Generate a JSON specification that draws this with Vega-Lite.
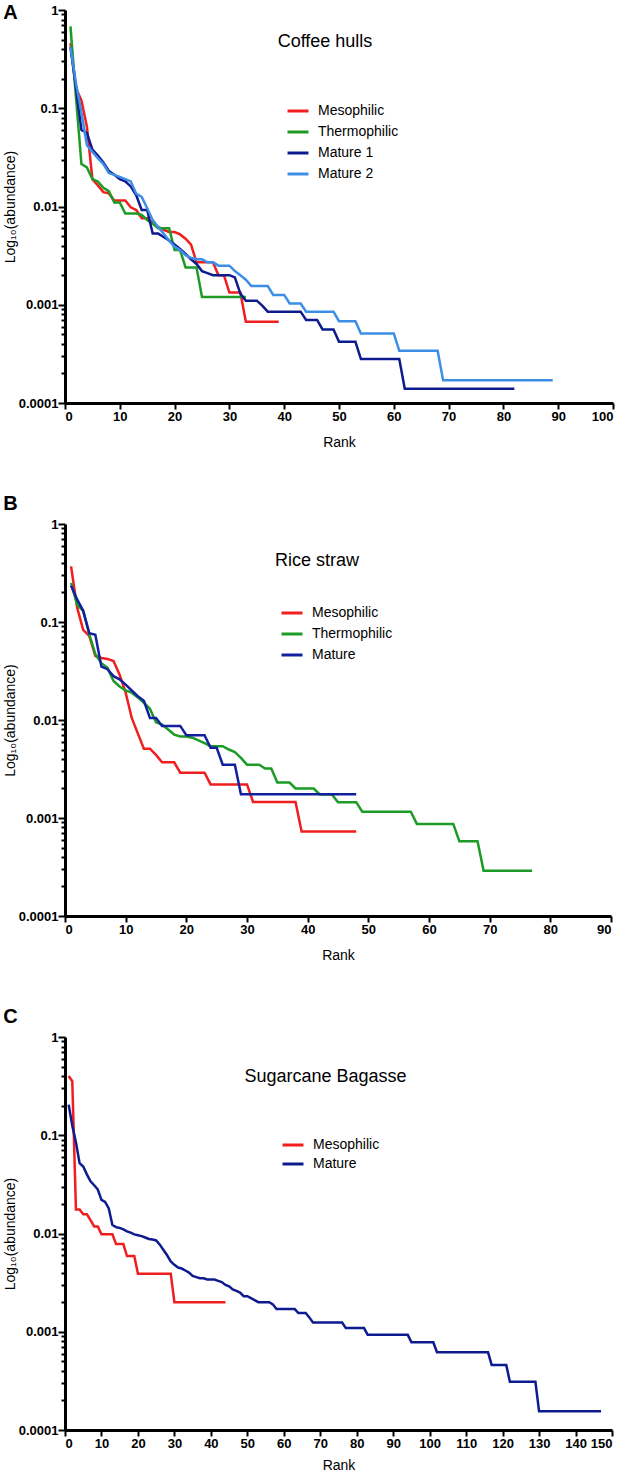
{
  "$schema": "https://vega.github.io/schema/vega-lite/v6.json",
  "padding": {"left": 3, "top": 3, "right": 5, "bottom": 5},
  "spacing": 45,
  "config": {
    "font": "Liberation Sans",
    "view": {"stroke": null},
    "axis": {"grid": false, "domainColor": "#000", "domainWidth": 3, "tickColor": "#000", "tickWidth": 2, "labelColor": "#000", "labelFontWeight": "bold", "labelFontSize": 13, "labelFont": "Liberation Sans", "titleColor": "#000", "titleFont": "Liberation Sans", "titleFontWeight": "normal", "titleFontSize": 14, "labelOverlap": false},
    "legend": {"orient": "none", "title": null, "symbolType": "stroke", "symbolStrokeWidth": 3, "symbolSize": 440, "labelFontSize": 14, "labelFont": "Liberation Sans", "labelColor": "#000", "labelOffset": 8, "rowPadding": 1},
    "title": {"font": "Liberation Sans", "color": "#000"}
  },
  "resolve": {"scale": {"color": "independent", "x": "independent", "y": "independent"}, "legend": {"color": "independent"}},
  "datasets": {
    "A": [
      {"rank":1,"abundance":0.46,"series":"Mesophilic"},{"rank":2,"abundance":0.16,"series":"Mesophilic"},{"rank":3,"abundance":0.12,"series":"Mesophilic"},{"rank":4,"abundance":0.065,"series":"Mesophilic"},{"rank":5,"abundance":0.019,"series":"Mesophilic"},{"rank":6,"abundance":0.0164,"series":"Mesophilic"},{"rank":7,"abundance":0.014,"series":"Mesophilic"},{"rank":8,"abundance":0.0136,"series":"Mesophilic"},{"rank":9,"abundance":0.0115,"series":"Mesophilic"},{"rank":10,"abundance":0.0115,"series":"Mesophilic"},
      {"rank":11,"abundance":0.0115,"series":"Mesophilic"},{"rank":12,"abundance":0.0098,"series":"Mesophilic"},{"rank":13,"abundance":0.0092,"series":"Mesophilic"},{"rank":14,"abundance":0.0076,"series":"Mesophilic"},{"rank":15,"abundance":0.0076,"series":"Mesophilic"},{"rank":16,"abundance":0.0068,"series":"Mesophilic"},{"rank":17,"abundance":0.0062,"series":"Mesophilic"},{"rank":18,"abundance":0.0058,"series":"Mesophilic"},{"rank":19,"abundance":0.0055,"series":"Mesophilic"},{"rank":20,"abundance":0.0055,"series":"Mesophilic"},
      {"rank":21,"abundance":0.0052,"series":"Mesophilic"},{"rank":22,"abundance":0.0047,"series":"Mesophilic"},{"rank":23,"abundance":0.0041,"series":"Mesophilic"},{"rank":24,"abundance":0.0027,"series":"Mesophilic"},{"rank":25,"abundance":0.0027,"series":"Mesophilic"},{"rank":26,"abundance":0.0027,"series":"Mesophilic"},{"rank":27,"abundance":0.0027,"series":"Mesophilic"},{"rank":28,"abundance":0.002,"series":"Mesophilic"},{"rank":29,"abundance":0.002,"series":"Mesophilic"},{"rank":30,"abundance":0.00133,"series":"Mesophilic"},
      {"rank":31,"abundance":0.00133,"series":"Mesophilic"},{"rank":32,"abundance":0.00133,"series":"Mesophilic"},{"rank":33,"abundance":0.00067,"series":"Mesophilic"},{"rank":34,"abundance":0.00067,"series":"Mesophilic"},{"rank":35,"abundance":0.00067,"series":"Mesophilic"},{"rank":36,"abundance":0.00067,"series":"Mesophilic"},{"rank":37,"abundance":0.00067,"series":"Mesophilic"},{"rank":38,"abundance":0.00067,"series":"Mesophilic"},{"rank":39,"abundance":0.00067,"series":"Mesophilic"},

      {"rank":1,"abundance":0.68,"series":"Thermophilic"},{"rank":2,"abundance":0.13,"series":"Thermophilic"},{"rank":3,"abundance":0.027,"series":"Thermophilic"},{"rank":4,"abundance":0.025,"series":"Thermophilic"},{"rank":5,"abundance":0.019,"series":"Thermophilic"},{"rank":6,"abundance":0.018,"series":"Thermophilic"},{"rank":7,"abundance":0.0155,"series":"Thermophilic"},{"rank":8,"abundance":0.0143,"series":"Thermophilic"},{"rank":9,"abundance":0.011,"series":"Thermophilic"},{"rank":10,"abundance":0.011,"series":"Thermophilic"},
      {"rank":11,"abundance":0.0085,"series":"Thermophilic"},{"rank":12,"abundance":0.0085,"series":"Thermophilic"},{"rank":13,"abundance":0.0085,"series":"Thermophilic"},{"rank":14,"abundance":0.0082,"series":"Thermophilic"},{"rank":15,"abundance":0.0073,"series":"Thermophilic"},{"rank":16,"abundance":0.0067,"series":"Thermophilic"},{"rank":17,"abundance":0.006,"series":"Thermophilic"},{"rank":18,"abundance":0.006,"series":"Thermophilic"},{"rank":19,"abundance":0.006,"series":"Thermophilic"},{"rank":20,"abundance":0.0036,"series":"Thermophilic"},
      {"rank":21,"abundance":0.0036,"series":"Thermophilic"},{"rank":22,"abundance":0.0024,"series":"Thermophilic"},{"rank":23,"abundance":0.0024,"series":"Thermophilic"},{"rank":24,"abundance":0.0024,"series":"Thermophilic"},{"rank":25,"abundance":0.0012,"series":"Thermophilic"},{"rank":26,"abundance":0.0012,"series":"Thermophilic"},{"rank":27,"abundance":0.0012,"series":"Thermophilic"},{"rank":28,"abundance":0.0012,"series":"Thermophilic"},{"rank":29,"abundance":0.0012,"series":"Thermophilic"},{"rank":30,"abundance":0.0012,"series":"Thermophilic"},
      {"rank":31,"abundance":0.0012,"series":"Thermophilic"},{"rank":32,"abundance":0.0012,"series":"Thermophilic"},{"rank":33,"abundance":0.0012,"series":"Thermophilic"},

      {"rank":1,"abundance":0.42,"series":"Mature  1"},{"rank":2,"abundance":0.16,"series":"Mature  1"},{"rank":3,"abundance":0.06,"series":"Mature  1"},{"rank":4,"abundance":0.056,"series":"Mature  1"},{"rank":5,"abundance":0.038,"series":"Mature  1"},{"rank":6,"abundance":0.033,"series":"Mature  1"},{"rank":7,"abundance":0.028,"series":"Mature  1"},{"rank":8,"abundance":0.023,"series":"Mature  1"},{"rank":9,"abundance":0.021,"series":"Mature  1"},{"rank":10,"abundance":0.019,"series":"Mature  1"},
      {"rank":11,"abundance":0.018,"series":"Mature  1"},{"rank":12,"abundance":0.016,"series":"Mature  1"},{"rank":13,"abundance":0.013,"series":"Mature  1"},{"rank":14,"abundance":0.0092,"series":"Mature  1"},{"rank":15,"abundance":0.0092,"series":"Mature  1"},{"rank":16,"abundance":0.0053,"series":"Mature  1"},{"rank":17,"abundance":0.0053,"series":"Mature  1"},{"rank":18,"abundance":0.0049,"series":"Mature  1"},{"rank":19,"abundance":0.0045,"series":"Mature  1"},{"rank":20,"abundance":0.0041,"series":"Mature  1"},
      {"rank":21,"abundance":0.0037,"series":"Mature  1"},{"rank":22,"abundance":0.0033,"series":"Mature  1"},{"rank":23,"abundance":0.0029,"series":"Mature  1"},{"rank":24,"abundance":0.0026,"series":"Mature  1"},{"rank":25,"abundance":0.0022,"series":"Mature  1"},{"rank":26,"abundance":0.0021,"series":"Mature  1"},{"rank":27,"abundance":0.002,"series":"Mature  1"},{"rank":28,"abundance":0.002,"series":"Mature  1"},{"rank":29,"abundance":0.002,"series":"Mature  1"},{"rank":30,"abundance":0.002,"series":"Mature  1"},
      {"rank":31,"abundance":0.0019,"series":"Mature  1"},{"rank":32,"abundance":0.0013,"series":"Mature  1"},{"rank":33,"abundance":0.0011,"series":"Mature  1"},{"rank":34,"abundance":0.0011,"series":"Mature  1"},{"rank":35,"abundance":0.0011,"series":"Mature  1"},{"rank":36,"abundance":0.00098,"series":"Mature  1"},{"rank":37,"abundance":0.00085,"series":"Mature  1"},{"rank":38,"abundance":0.00085,"series":"Mature  1"},{"rank":39,"abundance":0.00085,"series":"Mature  1"},{"rank":40,"abundance":0.00085,"series":"Mature  1"},
      {"rank":41,"abundance":0.00085,"series":"Mature  1"},{"rank":42,"abundance":0.00085,"series":"Mature  1"},{"rank":43,"abundance":0.00085,"series":"Mature  1"},{"rank":44,"abundance":0.0007,"series":"Mature  1"},{"rank":45,"abundance":0.0007,"series":"Mature  1"},{"rank":46,"abundance":0.0007,"series":"Mature  1"},{"rank":47,"abundance":0.00056,"series":"Mature  1"},{"rank":48,"abundance":0.00056,"series":"Mature  1"},{"rank":49,"abundance":0.00056,"series":"Mature  1"},{"rank":50,"abundance":0.00042,"series":"Mature  1"},
      {"rank":51,"abundance":0.00042,"series":"Mature  1"},{"rank":52,"abundance":0.00042,"series":"Mature  1"},{"rank":53,"abundance":0.00042,"series":"Mature  1"},{"rank":54,"abundance":0.00028,"series":"Mature  1"},{"rank":55,"abundance":0.00028,"series":"Mature  1"},{"rank":56,"abundance":0.00028,"series":"Mature  1"},{"rank":57,"abundance":0.00028,"series":"Mature  1"},{"rank":58,"abundance":0.00028,"series":"Mature  1"},{"rank":59,"abundance":0.00028,"series":"Mature  1"},{"rank":60,"abundance":0.00028,"series":"Mature  1"},
      {"rank":61,"abundance":0.00028,"series":"Mature  1"},{"rank":62,"abundance":0.00014,"series":"Mature  1"},{"rank":63,"abundance":0.00014,"series":"Mature  1"},{"rank":64,"abundance":0.00014,"series":"Mature  1"},{"rank":65,"abundance":0.00014,"series":"Mature  1"},{"rank":66,"abundance":0.00014,"series":"Mature  1"},{"rank":67,"abundance":0.00014,"series":"Mature  1"},{"rank":68,"abundance":0.00014,"series":"Mature  1"},{"rank":69,"abundance":0.00014,"series":"Mature  1"},{"rank":70,"abundance":0.00014,"series":"Mature  1"},
      {"rank":71,"abundance":0.00014,"series":"Mature  1"},{"rank":72,"abundance":0.00014,"series":"Mature  1"},{"rank":73,"abundance":0.00014,"series":"Mature  1"},{"rank":74,"abundance":0.00014,"series":"Mature  1"},{"rank":75,"abundance":0.00014,"series":"Mature  1"},{"rank":76,"abundance":0.00014,"series":"Mature  1"},{"rank":77,"abundance":0.00014,"series":"Mature  1"},{"rank":78,"abundance":0.00014,"series":"Mature  1"},{"rank":79,"abundance":0.00014,"series":"Mature  1"},{"rank":80,"abundance":0.00014,"series":"Mature  1"},
      {"rank":81,"abundance":0.00014,"series":"Mature  1"},{"rank":82,"abundance":0.00014,"series":"Mature  1"},

      {"rank":1,"abundance":0.42,"series":"Mature  2"},{"rank":2,"abundance":0.18,"series":"Mature  2"},{"rank":3,"abundance":0.09,"series":"Mature  2"},{"rank":4,"abundance":0.042,"series":"Mature  2"},{"rank":5,"abundance":0.036,"series":"Mature  2"},{"rank":6,"abundance":0.031,"series":"Mature  2"},{"rank":7,"abundance":0.027,"series":"Mature  2"},{"rank":8,"abundance":0.022,"series":"Mature  2"},{"rank":9,"abundance":0.021,"series":"Mature  2"},{"rank":10,"abundance":0.02,"series":"Mature  2"},
      {"rank":11,"abundance":0.019,"series":"Mature  2"},{"rank":12,"abundance":0.018,"series":"Mature  2"},{"rank":13,"abundance":0.0135,"series":"Mature  2"},{"rank":14,"abundance":0.0125,"series":"Mature  2"},{"rank":15,"abundance":0.0096,"series":"Mature  2"},{"rank":16,"abundance":0.0073,"series":"Mature  2"},{"rank":17,"abundance":0.0062,"series":"Mature  2"},{"rank":18,"abundance":0.0053,"series":"Mature  2"},{"rank":19,"abundance":0.0045,"series":"Mature  2"},{"rank":20,"abundance":0.0039,"series":"Mature  2"},
      {"rank":21,"abundance":0.0036,"series":"Mature  2"},{"rank":22,"abundance":0.0032,"series":"Mature  2"},{"rank":23,"abundance":0.003,"series":"Mature  2"},{"rank":24,"abundance":0.0029,"series":"Mature  2"},{"rank":25,"abundance":0.0029,"series":"Mature  2"},{"rank":26,"abundance":0.0027,"series":"Mature  2"},{"rank":27,"abundance":0.0027,"series":"Mature  2"},{"rank":28,"abundance":0.0025,"series":"Mature  2"},{"rank":29,"abundance":0.0025,"series":"Mature  2"},{"rank":30,"abundance":0.0025,"series":"Mature  2"},
      {"rank":31,"abundance":0.0022,"series":"Mature  2"},{"rank":32,"abundance":0.002,"series":"Mature  2"},{"rank":33,"abundance":0.0018,"series":"Mature  2"},{"rank":34,"abundance":0.00155,"series":"Mature  2"},{"rank":35,"abundance":0.00155,"series":"Mature  2"},{"rank":36,"abundance":0.00155,"series":"Mature  2"},{"rank":37,"abundance":0.00155,"series":"Mature  2"},{"rank":38,"abundance":0.00126,"series":"Mature  2"},{"rank":39,"abundance":0.00126,"series":"Mature  2"},{"rank":40,"abundance":0.00126,"series":"Mature  2"},
      {"rank":41,"abundance":0.00103,"series":"Mature  2"},{"rank":42,"abundance":0.00103,"series":"Mature  2"},{"rank":43,"abundance":0.00103,"series":"Mature  2"},{"rank":44,"abundance":0.00085,"series":"Mature  2"},{"rank":45,"abundance":0.00085,"series":"Mature  2"},{"rank":46,"abundance":0.00085,"series":"Mature  2"},{"rank":47,"abundance":0.00085,"series":"Mature  2"},{"rank":48,"abundance":0.00085,"series":"Mature  2"},{"rank":49,"abundance":0.00085,"series":"Mature  2"},{"rank":50,"abundance":0.00068,"series":"Mature  2"},
      {"rank":51,"abundance":0.00068,"series":"Mature  2"},{"rank":52,"abundance":0.00068,"series":"Mature  2"},{"rank":53,"abundance":0.00068,"series":"Mature  2"},{"rank":54,"abundance":0.00051,"series":"Mature  2"},{"rank":55,"abundance":0.00051,"series":"Mature  2"},{"rank":56,"abundance":0.00051,"series":"Mature  2"},{"rank":57,"abundance":0.00051,"series":"Mature  2"},{"rank":58,"abundance":0.00051,"series":"Mature  2"},{"rank":59,"abundance":0.00051,"series":"Mature  2"},{"rank":60,"abundance":0.00051,"series":"Mature  2"},
      {"rank":61,"abundance":0.00034,"series":"Mature  2"},{"rank":62,"abundance":0.00034,"series":"Mature  2"},{"rank":63,"abundance":0.00034,"series":"Mature  2"},{"rank":64,"abundance":0.00034,"series":"Mature  2"},{"rank":65,"abundance":0.00034,"series":"Mature  2"},{"rank":66,"abundance":0.00034,"series":"Mature  2"},{"rank":67,"abundance":0.00034,"series":"Mature  2"},{"rank":68,"abundance":0.00034,"series":"Mature  2"},{"rank":69,"abundance":0.00017,"series":"Mature  2"},{"rank":70,"abundance":0.00017,"series":"Mature  2"},
      {"rank":71,"abundance":0.00017,"series":"Mature  2"},{"rank":72,"abundance":0.00017,"series":"Mature  2"},{"rank":73,"abundance":0.00017,"series":"Mature  2"},{"rank":74,"abundance":0.00017,"series":"Mature  2"},{"rank":75,"abundance":0.00017,"series":"Mature  2"},{"rank":76,"abundance":0.00017,"series":"Mature  2"},{"rank":77,"abundance":0.00017,"series":"Mature  2"},{"rank":78,"abundance":0.00017,"series":"Mature  2"},{"rank":79,"abundance":0.00017,"series":"Mature  2"},{"rank":80,"abundance":0.00017,"series":"Mature  2"},
      {"rank":81,"abundance":0.00017,"series":"Mature  2"},{"rank":82,"abundance":0.00017,"series":"Mature  2"},{"rank":83,"abundance":0.00017,"series":"Mature  2"},{"rank":84,"abundance":0.00017,"series":"Mature  2"},{"rank":85,"abundance":0.00017,"series":"Mature  2"},{"rank":86,"abundance":0.00017,"series":"Mature  2"},{"rank":87,"abundance":0.00017,"series":"Mature  2"},{"rank":88,"abundance":0.00017,"series":"Mature  2"},{"rank":89,"abundance":0.00017,"series":"Mature  2"}
    ],
    "B": [
      {"rank":1,"abundance":0.37,"series":"Mesophilic"},{"rank":2,"abundance":0.14,"series":"Mesophilic"},{"rank":3,"abundance":0.083,"series":"Mesophilic"},{"rank":4,"abundance":0.072,"series":"Mesophilic"},{"rank":5,"abundance":0.045,"series":"Mesophilic"},{"rank":6,"abundance":0.043,"series":"Mesophilic"},{"rank":7,"abundance":0.042,"series":"Mesophilic"},{"rank":8,"abundance":0.04,"series":"Mesophilic"},{"rank":9,"abundance":0.029,"series":"Mesophilic"},{"rank":10,"abundance":0.019,"series":"Mesophilic"},
      {"rank":11,"abundance":0.0105,"series":"Mesophilic"},{"rank":12,"abundance":0.0073,"series":"Mesophilic"},{"rank":13,"abundance":0.0051,"series":"Mesophilic"},{"rank":14,"abundance":0.0051,"series":"Mesophilic"},{"rank":15,"abundance":0.0044,"series":"Mesophilic"},{"rank":16,"abundance":0.0037,"series":"Mesophilic"},{"rank":17,"abundance":0.0037,"series":"Mesophilic"},{"rank":18,"abundance":0.0037,"series":"Mesophilic"},{"rank":19,"abundance":0.0029,"series":"Mesophilic"},{"rank":20,"abundance":0.0029,"series":"Mesophilic"},
      {"rank":21,"abundance":0.0029,"series":"Mesophilic"},{"rank":22,"abundance":0.0029,"series":"Mesophilic"},{"rank":23,"abundance":0.0029,"series":"Mesophilic"},{"rank":24,"abundance":0.0022,"series":"Mesophilic"},{"rank":25,"abundance":0.0022,"series":"Mesophilic"},{"rank":26,"abundance":0.0022,"series":"Mesophilic"},{"rank":27,"abundance":0.0022,"series":"Mesophilic"},{"rank":28,"abundance":0.0022,"series":"Mesophilic"},{"rank":29,"abundance":0.0022,"series":"Mesophilic"},{"rank":30,"abundance":0.0022,"series":"Mesophilic"},
      {"rank":31,"abundance":0.00146,"series":"Mesophilic"},{"rank":32,"abundance":0.00146,"series":"Mesophilic"},{"rank":33,"abundance":0.00146,"series":"Mesophilic"},{"rank":34,"abundance":0.00146,"series":"Mesophilic"},{"rank":35,"abundance":0.00146,"series":"Mesophilic"},{"rank":36,"abundance":0.00146,"series":"Mesophilic"},{"rank":37,"abundance":0.00146,"series":"Mesophilic"},{"rank":38,"abundance":0.00146,"series":"Mesophilic"},{"rank":39,"abundance":0.00073,"series":"Mesophilic"},{"rank":40,"abundance":0.00073,"series":"Mesophilic"},
      {"rank":41,"abundance":0.00073,"series":"Mesophilic"},{"rank":42,"abundance":0.00073,"series":"Mesophilic"},{"rank":43,"abundance":0.00073,"series":"Mesophilic"},{"rank":44,"abundance":0.00073,"series":"Mesophilic"},{"rank":45,"abundance":0.00073,"series":"Mesophilic"},{"rank":46,"abundance":0.00073,"series":"Mesophilic"},{"rank":47,"abundance":0.00073,"series":"Mesophilic"},{"rank":48,"abundance":0.00073,"series":"Mesophilic"},

      {"rank":1,"abundance":0.25,"series":"Thermophilic"},{"rank":2,"abundance":0.15,"series":"Thermophilic"},{"rank":3,"abundance":0.13,"series":"Thermophilic"},{"rank":4,"abundance":0.075,"series":"Thermophilic"},{"rank":5,"abundance":0.047,"series":"Thermophilic"},{"rank":6,"abundance":0.038,"series":"Thermophilic"},{"rank":7,"abundance":0.034,"series":"Thermophilic"},{"rank":8,"abundance":0.025,"series":"Thermophilic"},{"rank":9,"abundance":0.022,"series":"Thermophilic"},{"rank":10,"abundance":0.02,"series":"Thermophilic"},
      {"rank":11,"abundance":0.019,"series":"Thermophilic"},{"rank":12,"abundance":0.017,"series":"Thermophilic"},{"rank":13,"abundance":0.015,"series":"Thermophilic"},{"rank":14,"abundance":0.013,"series":"Thermophilic"},{"rank":15,"abundance":0.0095,"series":"Thermophilic"},{"rank":16,"abundance":0.009,"series":"Thermophilic"},{"rank":17,"abundance":0.008,"series":"Thermophilic"},{"rank":18,"abundance":0.0071,"series":"Thermophilic"},{"rank":19,"abundance":0.0068,"series":"Thermophilic"},{"rank":20,"abundance":0.0068,"series":"Thermophilic"},
      {"rank":21,"abundance":0.0066,"series":"Thermophilic"},{"rank":22,"abundance":0.0062,"series":"Thermophilic"},{"rank":23,"abundance":0.0058,"series":"Thermophilic"},{"rank":24,"abundance":0.0054,"series":"Thermophilic"},{"rank":25,"abundance":0.0054,"series":"Thermophilic"},{"rank":26,"abundance":0.0054,"series":"Thermophilic"},{"rank":27,"abundance":0.005,"series":"Thermophilic"},{"rank":28,"abundance":0.0047,"series":"Thermophilic"},{"rank":29,"abundance":0.0041,"series":"Thermophilic"},{"rank":30,"abundance":0.0035,"series":"Thermophilic"},
      {"rank":31,"abundance":0.0035,"series":"Thermophilic"},{"rank":32,"abundance":0.0035,"series":"Thermophilic"},{"rank":33,"abundance":0.0032,"series":"Thermophilic"},{"rank":34,"abundance":0.0032,"series":"Thermophilic"},{"rank":35,"abundance":0.0023,"series":"Thermophilic"},{"rank":36,"abundance":0.0023,"series":"Thermophilic"},{"rank":37,"abundance":0.0023,"series":"Thermophilic"},{"rank":38,"abundance":0.002,"series":"Thermophilic"},{"rank":39,"abundance":0.002,"series":"Thermophilic"},{"rank":40,"abundance":0.002,"series":"Thermophilic"},
      {"rank":41,"abundance":0.002,"series":"Thermophilic"},{"rank":42,"abundance":0.00174,"series":"Thermophilic"},{"rank":43,"abundance":0.00174,"series":"Thermophilic"},{"rank":44,"abundance":0.00174,"series":"Thermophilic"},{"rank":45,"abundance":0.00145,"series":"Thermophilic"},{"rank":46,"abundance":0.00145,"series":"Thermophilic"},{"rank":47,"abundance":0.00145,"series":"Thermophilic"},{"rank":48,"abundance":0.00145,"series":"Thermophilic"},{"rank":49,"abundance":0.00116,"series":"Thermophilic"},{"rank":50,"abundance":0.00116,"series":"Thermophilic"},
      {"rank":51,"abundance":0.00116,"series":"Thermophilic"},{"rank":52,"abundance":0.00116,"series":"Thermophilic"},{"rank":53,"abundance":0.00116,"series":"Thermophilic"},{"rank":54,"abundance":0.00116,"series":"Thermophilic"},{"rank":55,"abundance":0.00116,"series":"Thermophilic"},{"rank":56,"abundance":0.00116,"series":"Thermophilic"},{"rank":57,"abundance":0.00116,"series":"Thermophilic"},{"rank":58,"abundance":0.00087,"series":"Thermophilic"},{"rank":59,"abundance":0.00087,"series":"Thermophilic"},{"rank":60,"abundance":0.00087,"series":"Thermophilic"},
      {"rank":61,"abundance":0.00087,"series":"Thermophilic"},{"rank":62,"abundance":0.00087,"series":"Thermophilic"},{"rank":63,"abundance":0.00087,"series":"Thermophilic"},{"rank":64,"abundance":0.00087,"series":"Thermophilic"},{"rank":65,"abundance":0.00058,"series":"Thermophilic"},{"rank":66,"abundance":0.00058,"series":"Thermophilic"},{"rank":67,"abundance":0.00058,"series":"Thermophilic"},{"rank":68,"abundance":0.00058,"series":"Thermophilic"},{"rank":69,"abundance":0.00029,"series":"Thermophilic"},{"rank":70,"abundance":0.00029,"series":"Thermophilic"},
      {"rank":71,"abundance":0.00029,"series":"Thermophilic"},{"rank":72,"abundance":0.00029,"series":"Thermophilic"},{"rank":73,"abundance":0.00029,"series":"Thermophilic"},{"rank":74,"abundance":0.00029,"series":"Thermophilic"},{"rank":75,"abundance":0.00029,"series":"Thermophilic"},{"rank":76,"abundance":0.00029,"series":"Thermophilic"},{"rank":77,"abundance":0.00029,"series":"Thermophilic"},

      {"rank":1,"abundance":0.235,"series":"Mature"},{"rank":2,"abundance":0.17,"series":"Mature"},{"rank":3,"abundance":0.13,"series":"Mature"},{"rank":4,"abundance":0.077,"series":"Mature"},{"rank":5,"abundance":0.074,"series":"Mature"},{"rank":6,"abundance":0.035,"series":"Mature"},{"rank":7,"abundance":0.033,"series":"Mature"},{"rank":8,"abundance":0.028,"series":"Mature"},{"rank":9,"abundance":0.026,"series":"Mature"},{"rank":10,"abundance":0.023,"series":"Mature"},
      {"rank":11,"abundance":0.02,"series":"Mature"},{"rank":12,"abundance":0.0175,"series":"Mature"},{"rank":13,"abundance":0.0157,"series":"Mature"},{"rank":14,"abundance":0.0105,"series":"Mature"},{"rank":15,"abundance":0.0105,"series":"Mature"},{"rank":16,"abundance":0.0087,"series":"Mature"},{"rank":17,"abundance":0.0087,"series":"Mature"},{"rank":18,"abundance":0.0087,"series":"Mature"},{"rank":19,"abundance":0.0087,"series":"Mature"},{"rank":20,"abundance":0.007,"series":"Mature"},
      {"rank":21,"abundance":0.007,"series":"Mature"},{"rank":22,"abundance":0.007,"series":"Mature"},{"rank":23,"abundance":0.007,"series":"Mature"},{"rank":24,"abundance":0.0052,"series":"Mature"},{"rank":25,"abundance":0.0052,"series":"Mature"},{"rank":26,"abundance":0.0035,"series":"Mature"},{"rank":27,"abundance":0.0035,"series":"Mature"},{"rank":28,"abundance":0.0035,"series":"Mature"},{"rank":29,"abundance":0.00175,"series":"Mature"},{"rank":30,"abundance":0.00175,"series":"Mature"},
      {"rank":31,"abundance":0.00175,"series":"Mature"},{"rank":32,"abundance":0.00175,"series":"Mature"},{"rank":33,"abundance":0.00175,"series":"Mature"},{"rank":34,"abundance":0.00175,"series":"Mature"},{"rank":35,"abundance":0.00175,"series":"Mature"},{"rank":36,"abundance":0.00175,"series":"Mature"},{"rank":37,"abundance":0.00175,"series":"Mature"},{"rank":38,"abundance":0.00175,"series":"Mature"},{"rank":39,"abundance":0.00175,"series":"Mature"},{"rank":40,"abundance":0.00175,"series":"Mature"},
      {"rank":41,"abundance":0.00175,"series":"Mature"},{"rank":42,"abundance":0.00175,"series":"Mature"},{"rank":43,"abundance":0.00175,"series":"Mature"},{"rank":44,"abundance":0.00175,"series":"Mature"},{"rank":45,"abundance":0.00175,"series":"Mature"},{"rank":46,"abundance":0.00175,"series":"Mature"},{"rank":47,"abundance":0.00175,"series":"Mature"},{"rank":48,"abundance":0.00175,"series":"Mature"}
    ],
    "C": [
      {"rank":1,"abundance":0.4,"series":"Mesophilic"},{"rank":2,"abundance":0.355,"series":"Mesophilic"},{"rank":3,"abundance":0.0176,"series":"Mesophilic"},{"rank":4,"abundance":0.0176,"series":"Mesophilic"},{"rank":5,"abundance":0.0157,"series":"Mesophilic"},{"rank":6,"abundance":0.0157,"series":"Mesophilic"},{"rank":7,"abundance":0.0137,"series":"Mesophilic"},{"rank":8,"abundance":0.0118,"series":"Mesophilic"},{"rank":9,"abundance":0.0118,"series":"Mesophilic"},{"rank":10,"abundance":0.0098,"series":"Mesophilic"},
      {"rank":11,"abundance":0.0098,"series":"Mesophilic"},{"rank":12,"abundance":0.0098,"series":"Mesophilic"},{"rank":13,"abundance":0.0098,"series":"Mesophilic"},{"rank":14,"abundance":0.0078,"series":"Mesophilic"},{"rank":15,"abundance":0.0078,"series":"Mesophilic"},{"rank":16,"abundance":0.0078,"series":"Mesophilic"},{"rank":17,"abundance":0.0059,"series":"Mesophilic"},{"rank":18,"abundance":0.0059,"series":"Mesophilic"},{"rank":19,"abundance":0.0059,"series":"Mesophilic"},{"rank":20,"abundance":0.0039,"series":"Mesophilic"},
      {"rank":21,"abundance":0.0039,"series":"Mesophilic"},{"rank":22,"abundance":0.0039,"series":"Mesophilic"},{"rank":23,"abundance":0.0039,"series":"Mesophilic"},{"rank":24,"abundance":0.0039,"series":"Mesophilic"},{"rank":25,"abundance":0.0039,"series":"Mesophilic"},{"rank":26,"abundance":0.0039,"series":"Mesophilic"},{"rank":27,"abundance":0.0039,"series":"Mesophilic"},{"rank":28,"abundance":0.0039,"series":"Mesophilic"},{"rank":29,"abundance":0.0039,"series":"Mesophilic"},{"rank":30,"abundance":0.002,"series":"Mesophilic"},
      {"rank":31,"abundance":0.002,"series":"Mesophilic"},{"rank":32,"abundance":0.002,"series":"Mesophilic"},{"rank":33,"abundance":0.002,"series":"Mesophilic"},{"rank":34,"abundance":0.002,"series":"Mesophilic"},{"rank":35,"abundance":0.002,"series":"Mesophilic"},{"rank":36,"abundance":0.002,"series":"Mesophilic"},{"rank":37,"abundance":0.002,"series":"Mesophilic"},{"rank":38,"abundance":0.002,"series":"Mesophilic"},{"rank":39,"abundance":0.002,"series":"Mesophilic"},{"rank":40,"abundance":0.002,"series":"Mesophilic"},
      {"rank":41,"abundance":0.002,"series":"Mesophilic"},{"rank":42,"abundance":0.002,"series":"Mesophilic"},{"rank":43,"abundance":0.002,"series":"Mesophilic"},{"rank":44,"abundance":0.002,"series":"Mesophilic"},

      {"rank":1,"abundance":0.205,"series":"Mature"},{"rank":2,"abundance":0.125,"series":"Mature"},{"rank":3,"abundance":0.085,"series":"Mature"},{"rank":4,"abundance":0.052,"series":"Mature"},{"rank":5,"abundance":0.048,"series":"Mature"},{"rank":6,"abundance":0.04,"series":"Mature"},{"rank":7,"abundance":0.034,"series":"Mature"},{"rank":8,"abundance":0.031,"series":"Mature"},{"rank":9,"abundance":0.028,"series":"Mature"},{"rank":10,"abundance":0.022,"series":"Mature"},
      {"rank":11,"abundance":0.021,"series":"Mature"},{"rank":12,"abundance":0.018,"series":"Mature"},{"rank":13,"abundance":0.0122,"series":"Mature"},{"rank":14,"abundance":0.0116,"series":"Mature"},{"rank":15,"abundance":0.0114,"series":"Mature"},{"rank":16,"abundance":0.011,"series":"Mature"},{"rank":17,"abundance":0.0105,"series":"Mature"},{"rank":18,"abundance":0.0102,"series":"Mature"},{"rank":19,"abundance":0.0098,"series":"Mature"},{"rank":20,"abundance":0.0096,"series":"Mature"},
      {"rank":21,"abundance":0.0094,"series":"Mature"},{"rank":22,"abundance":0.0091,"series":"Mature"},{"rank":23,"abundance":0.0088,"series":"Mature"},{"rank":24,"abundance":0.0087,"series":"Mature"},{"rank":25,"abundance":0.0085,"series":"Mature"},{"rank":26,"abundance":0.0077,"series":"Mature"},{"rank":27,"abundance":0.0068,"series":"Mature"},{"rank":28,"abundance":0.006,"series":"Mature"},{"rank":29,"abundance":0.0052,"series":"Mature"},{"rank":30,"abundance":0.0048,"series":"Mature"},
      {"rank":31,"abundance":0.0045,"series":"Mature"},{"rank":32,"abundance":0.0044,"series":"Mature"},{"rank":33,"abundance":0.0042,"series":"Mature"},{"rank":34,"abundance":0.004,"series":"Mature"},{"rank":35,"abundance":0.0037,"series":"Mature"},{"rank":36,"abundance":0.0036,"series":"Mature"},{"rank":37,"abundance":0.0035,"series":"Mature"},{"rank":38,"abundance":0.0035,"series":"Mature"},{"rank":39,"abundance":0.0034,"series":"Mature"},{"rank":40,"abundance":0.0034,"series":"Mature"},
      {"rank":41,"abundance":0.0034,"series":"Mature"},{"rank":42,"abundance":0.0033,"series":"Mature"},{"rank":43,"abundance":0.0032,"series":"Mature"},{"rank":44,"abundance":0.003,"series":"Mature"},{"rank":45,"abundance":0.0029,"series":"Mature"},{"rank":46,"abundance":0.0027,"series":"Mature"},{"rank":47,"abundance":0.0026,"series":"Mature"},{"rank":48,"abundance":0.0025,"series":"Mature"},{"rank":49,"abundance":0.0023,"series":"Mature"},{"rank":50,"abundance":0.0023,"series":"Mature"},
      {"rank":51,"abundance":0.0022,"series":"Mature"},{"rank":52,"abundance":0.0021,"series":"Mature"},{"rank":53,"abundance":0.002,"series":"Mature"},{"rank":54,"abundance":0.002,"series":"Mature"},{"rank":55,"abundance":0.002,"series":"Mature"},{"rank":56,"abundance":0.002,"series":"Mature"},{"rank":57,"abundance":0.0019,"series":"Mature"},{"rank":58,"abundance":0.0017,"series":"Mature"},{"rank":59,"abundance":0.0017,"series":"Mature"},{"rank":60,"abundance":0.0017,"series":"Mature"},
      {"rank":61,"abundance":0.0017,"series":"Mature"},{"rank":62,"abundance":0.0017,"series":"Mature"},{"rank":63,"abundance":0.0017,"series":"Mature"},{"rank":64,"abundance":0.00155,"series":"Mature"},{"rank":65,"abundance":0.00155,"series":"Mature"},{"rank":66,"abundance":0.00155,"series":"Mature"},{"rank":67,"abundance":0.0014,"series":"Mature"},{"rank":68,"abundance":0.00124,"series":"Mature"},{"rank":69,"abundance":0.00124,"series":"Mature"},{"rank":70,"abundance":0.00124,"series":"Mature"},
      {"rank":71,"abundance":0.00124,"series":"Mature"},{"rank":72,"abundance":0.00124,"series":"Mature"},{"rank":73,"abundance":0.00124,"series":"Mature"},{"rank":74,"abundance":0.00124,"series":"Mature"},{"rank":75,"abundance":0.00124,"series":"Mature"},{"rank":76,"abundance":0.00124,"series":"Mature"},{"rank":77,"abundance":0.00109,"series":"Mature"},{"rank":78,"abundance":0.00109,"series":"Mature"},{"rank":79,"abundance":0.00109,"series":"Mature"},{"rank":80,"abundance":0.00109,"series":"Mature"},
      {"rank":81,"abundance":0.00109,"series":"Mature"},{"rank":82,"abundance":0.00109,"series":"Mature"},{"rank":83,"abundance":0.00093,"series":"Mature"},{"rank":84,"abundance":0.00093,"series":"Mature"},{"rank":85,"abundance":0.00093,"series":"Mature"},{"rank":86,"abundance":0.00093,"series":"Mature"},{"rank":87,"abundance":0.00093,"series":"Mature"},{"rank":88,"abundance":0.00093,"series":"Mature"},{"rank":89,"abundance":0.00093,"series":"Mature"},{"rank":90,"abundance":0.00093,"series":"Mature"},
      {"rank":91,"abundance":0.00093,"series":"Mature"},{"rank":92,"abundance":0.00093,"series":"Mature"},{"rank":93,"abundance":0.00093,"series":"Mature"},{"rank":94,"abundance":0.00093,"series":"Mature"},{"rank":95,"abundance":0.00078,"series":"Mature"},{"rank":96,"abundance":0.00078,"series":"Mature"},{"rank":97,"abundance":0.00078,"series":"Mature"},{"rank":98,"abundance":0.00078,"series":"Mature"},{"rank":99,"abundance":0.00078,"series":"Mature"},{"rank":100,"abundance":0.00078,"series":"Mature"},
      {"rank":101,"abundance":0.00078,"series":"Mature"},{"rank":102,"abundance":0.00062,"series":"Mature"},{"rank":103,"abundance":0.00062,"series":"Mature"},{"rank":104,"abundance":0.00062,"series":"Mature"},{"rank":105,"abundance":0.00062,"series":"Mature"},{"rank":106,"abundance":0.00062,"series":"Mature"},{"rank":107,"abundance":0.00062,"series":"Mature"},{"rank":108,"abundance":0.00062,"series":"Mature"},{"rank":109,"abundance":0.00062,"series":"Mature"},{"rank":110,"abundance":0.00062,"series":"Mature"},
      {"rank":111,"abundance":0.00062,"series":"Mature"},{"rank":112,"abundance":0.00062,"series":"Mature"},{"rank":113,"abundance":0.00062,"series":"Mature"},{"rank":114,"abundance":0.00062,"series":"Mature"},{"rank":115,"abundance":0.00062,"series":"Mature"},{"rank":116,"abundance":0.00062,"series":"Mature"},{"rank":117,"abundance":0.00046,"series":"Mature"},{"rank":118,"abundance":0.00046,"series":"Mature"},{"rank":119,"abundance":0.00046,"series":"Mature"},{"rank":120,"abundance":0.00046,"series":"Mature"},
      {"rank":121,"abundance":0.00046,"series":"Mature"},{"rank":122,"abundance":0.00031,"series":"Mature"},{"rank":123,"abundance":0.00031,"series":"Mature"},{"rank":124,"abundance":0.00031,"series":"Mature"},{"rank":125,"abundance":0.00031,"series":"Mature"},{"rank":126,"abundance":0.00031,"series":"Mature"},{"rank":127,"abundance":0.00031,"series":"Mature"},{"rank":128,"abundance":0.00031,"series":"Mature"},{"rank":129,"abundance":0.00031,"series":"Mature"},{"rank":130,"abundance":0.000155,"series":"Mature"},
      {"rank":131,"abundance":0.000155,"series":"Mature"},{"rank":132,"abundance":0.000155,"series":"Mature"},{"rank":133,"abundance":0.000155,"series":"Mature"},{"rank":134,"abundance":0.000155,"series":"Mature"},{"rank":135,"abundance":0.000155,"series":"Mature"},{"rank":136,"abundance":0.000155,"series":"Mature"},{"rank":137,"abundance":0.000155,"series":"Mature"},{"rank":138,"abundance":0.000155,"series":"Mature"},{"rank":139,"abundance":0.000155,"series":"Mature"},{"rank":140,"abundance":0.000155,"series":"Mature"},
      {"rank":141,"abundance":0.000155,"series":"Mature"},{"rank":142,"abundance":0.000155,"series":"Mature"},{"rank":143,"abundance":0.000155,"series":"Mature"},{"rank":144,"abundance":0.000155,"series":"Mature"},{"rank":145,"abundance":0.000155,"series":"Mature"},{"rank":146,"abundance":0.000155,"series":"Mature"},{"rank":147,"abundance":0.000155,"series":"Mature"}
    ]
  },
  "vconcat": [
    {
      "title": {"text": "A", "anchor": "start", "frame": "bounds", "fontSize": 20, "fontWeight": "bold", "offset": -19},
      "vconcat": [
        {
          "width": 548, "height": 393,
          "title": {"text": "Coffee hulls", "anchor": "middle", "frame": "group", "offset": -47, "dx": -14, "fontSize": 18, "fontWeight": "normal"},
          "data": {"name": "A"},
          "mark": {"type": "line", "strokeWidth": 2.5},
          "encoding": {
            "x": {"field": "rank", "type": "quantitative", "scale": {"domain": [0, 100], "nice": false},
                  "axis": {"title": "Rank", "values": [0,10,20,30,40,50,60,70,80,90,100], "tickSize": 6, "labelPadding": 1, "titlePadding": 12}},
            "y": {"field": "abundance", "type": "quantitative", "scale": {"type": "log", "domain": [0.0001, 1], "nice": false},
                  "axis": {"title": "Log₁₀(abundance)", "titlePadding": 1, "labelPadding": 0,
                           "values": [0.0001,0.0002,0.0003,0.0004,0.0005,0.0006,0.0007,0.0008,0.0009,0.001,0.002,0.003,0.004,0.005,0.006,0.007,0.008,0.009,0.01,0.02,0.03,0.04,0.05,0.06,0.07,0.08,0.09,0.1,0.2,0.3,0.4,0.5,0.6,0.7,0.8,0.9,1],
                           "labelExpr": "abs(log(datum.value)/LN10 - round(log(datum.value)/LN10)) < 0.001 ? format(datum.value, '~g') : ''",
                           "tickSize": {"condition": {"test": "abs(log(datum.value)/LN10 - round(log(datum.value)/LN10)) < 0.001", "value": 7}, "value": 4}}},
            "color": {"field": "series", "type": "nominal",
                      "scale": {"domain": ["Mesophilic", "Thermophilic", "Mature  1", "Mature  2"], "range": ["#f01e1e", "#1c9c26", "#0e1b8e", "#3c8ee6"]},
                      "legend": {"legendX": 221, "legendY": 89, "rowPadding": 2}}
          }
        }
      ]
    },
    {
      "title": {"text": "B", "anchor": "start", "frame": "bounds", "fontSize": 20, "fontWeight": "bold", "offset": 4},
      "vconcat": [
        {
          "width": 546, "height": 392,
          "title": {"text": "Rice straw", "anchor": "middle", "frame": "group", "offset": -52, "dx": -21, "fontSize": 18, "fontWeight": "normal"},
          "data": {"name": "B"},
          "mark": {"type": "line", "strokeWidth": 2.5},
          "encoding": {
            "x": {"field": "rank", "type": "quantitative", "scale": {"domain": [0, 90], "nice": false},
                  "axis": {"title": "Rank", "values": [0,10,20,30,40,50,60,70,80,90], "tickSize": 6, "labelPadding": 1, "titlePadding": 12}},
            "y": {"field": "abundance", "type": "quantitative", "scale": {"type": "log", "domain": [0.0001, 1], "nice": false},
                  "axis": {"title": "Log₁₀(abundance)", "titlePadding": 1, "labelPadding": 0,
                           "values": [0.0001,0.0002,0.0003,0.0004,0.0005,0.0006,0.0007,0.0008,0.0009,0.001,0.002,0.003,0.004,0.005,0.006,0.007,0.008,0.009,0.01,0.02,0.03,0.04,0.05,0.06,0.07,0.08,0.09,0.1,0.2,0.3,0.4,0.5,0.6,0.7,0.8,0.9,1],
                           "labelExpr": "abs(log(datum.value)/LN10 - round(log(datum.value)/LN10)) < 0.001 ? format(datum.value, '~g') : ''",
                           "tickSize": {"condition": {"test": "abs(log(datum.value)/LN10 - round(log(datum.value)/LN10)) < 0.001", "value": 7}, "value": 4}}},
            "color": {"field": "series", "type": "nominal",
                      "scale": {"domain": ["Mesophilic", "Thermophilic", "Mature"], "range": ["#f01e1e", "#1c9c26", "#1220a0"]},
                      "legend": {"legendX": 215, "legendY": 77, "rowPadding": 2}}
          }
        }
      ]
    },
    {
      "title": {"text": "C", "anchor": "start", "frame": "bounds", "fontSize": 20, "fontWeight": "bold", "offset": 4},
      "vconcat": [
        {
          "width": 547, "height": 393,
          "title": {"text": "Sugarcane Bagasse", "anchor": "middle", "frame": "group", "offset": -55, "dx": -13, "fontSize": 18, "fontWeight": "normal"},
          "data": {"name": "C"},
          "mark": {"type": "line", "strokeWidth": 2.5},
          "encoding": {
            "x": {"field": "rank", "type": "quantitative", "scale": {"domain": [0, 150], "nice": false},
                  "axis": {"title": "Rank", "values": [0,10,20,30,40,50,60,70,80,90,100,110,120,130,140,150], "tickSize": 6, "labelPadding": 1, "titlePadding": 8}},
            "y": {"field": "abundance", "type": "quantitative", "scale": {"type": "log", "domain": [0.0001, 1], "nice": false},
                  "axis": {"title": "Log₁₀(abundance)", "titlePadding": 1, "labelPadding": 0,
                           "values": [0.0001,0.0002,0.0003,0.0004,0.0005,0.0006,0.0007,0.0008,0.0009,0.001,0.002,0.003,0.004,0.005,0.006,0.007,0.008,0.009,0.01,0.02,0.03,0.04,0.05,0.06,0.07,0.08,0.09,0.1,0.2,0.3,0.4,0.5,0.6,0.7,0.8,0.9,1],
                           "labelExpr": "abs(log(datum.value)/LN10 - round(log(datum.value)/LN10)) < 0.001 ? format(datum.value, '~g') : ''",
                           "tickSize": {"condition": {"test": "abs(log(datum.value)/LN10 - round(log(datum.value)/LN10)) < 0.001", "value": 7}, "value": 4}}},
            "color": {"field": "series", "type": "nominal",
                      "scale": {"domain": ["Mesophilic", "Mature"], "range": ["#f01e1e", "#0e1b8e"]},
                      "legend": {"legendX": 216, "legendY": 96, "rowPadding": 0}}
          }
        }
      ]
    }
  ]
}
